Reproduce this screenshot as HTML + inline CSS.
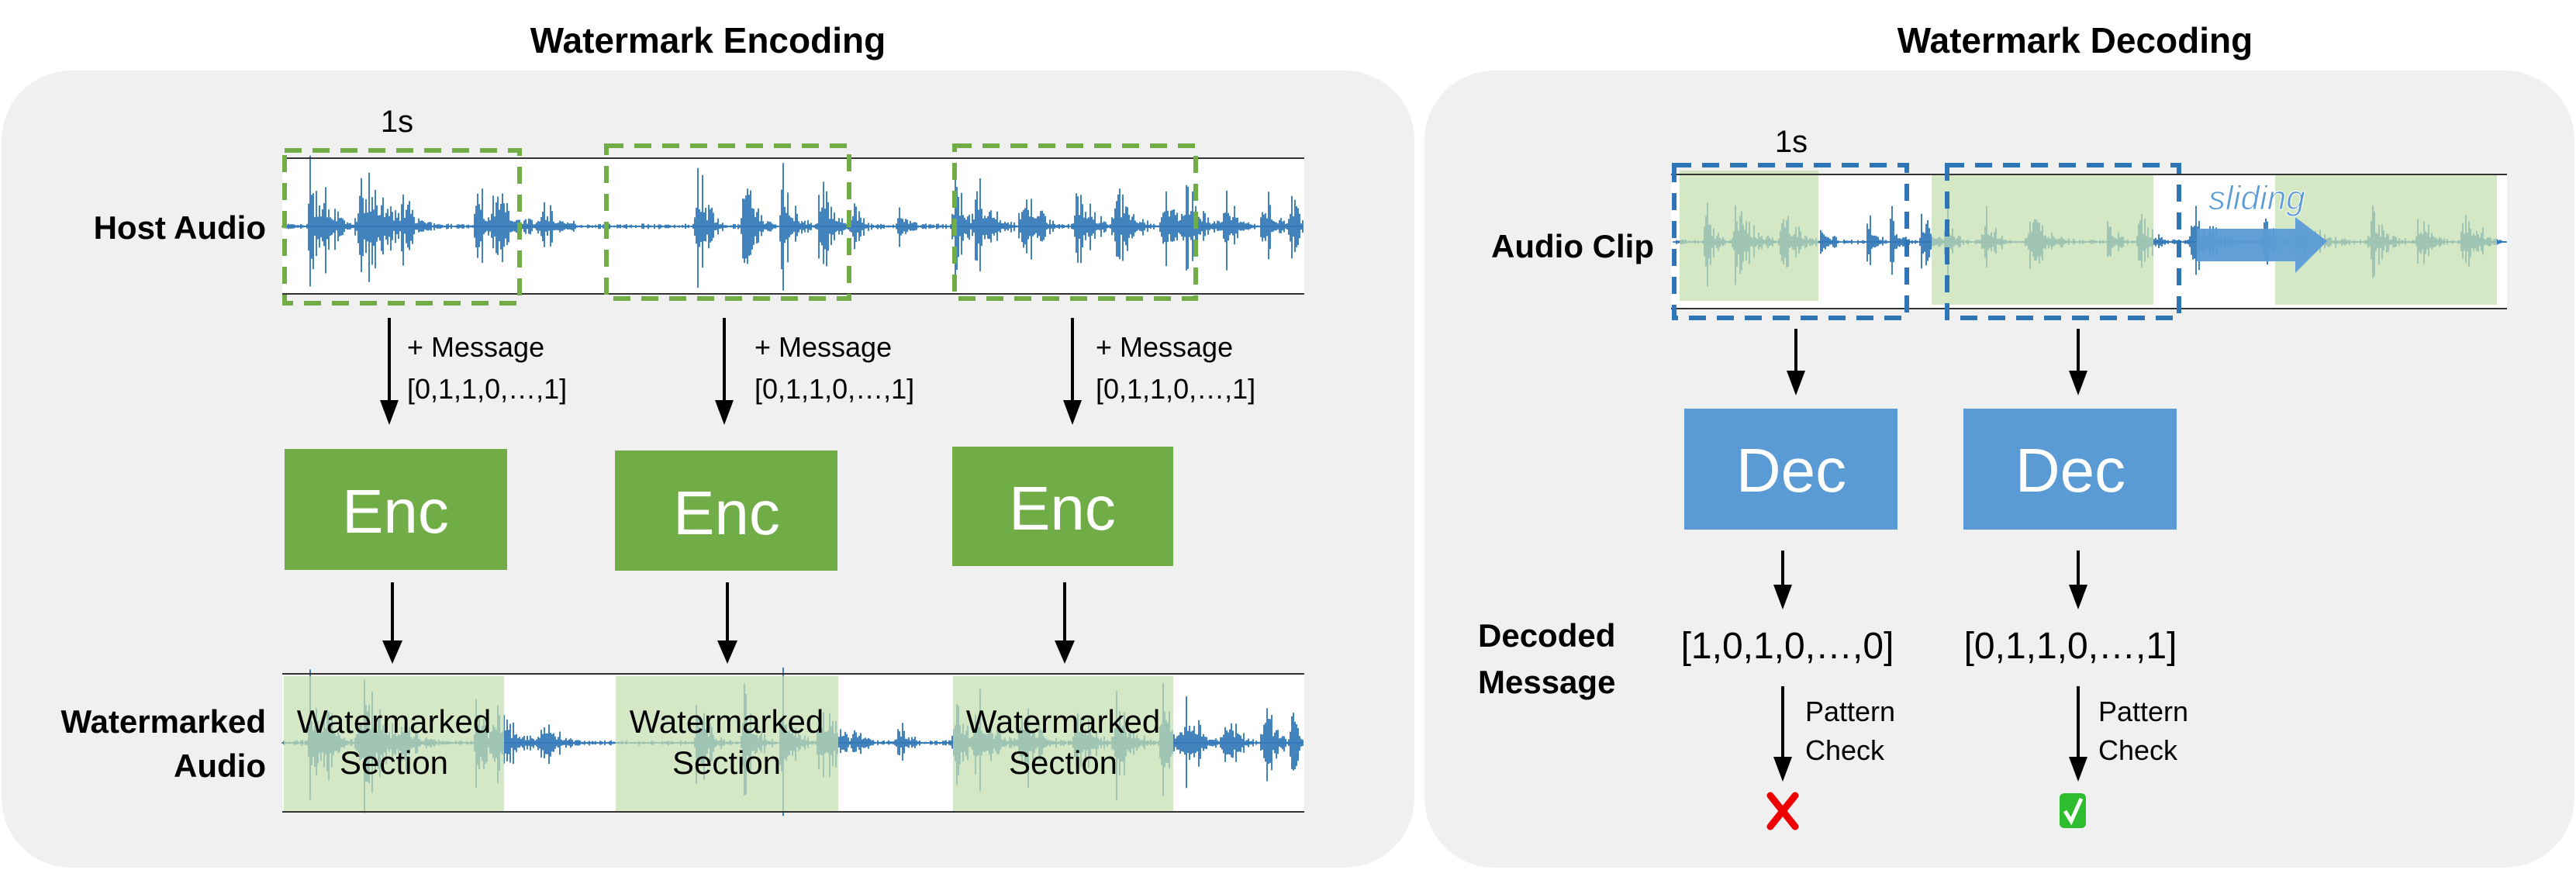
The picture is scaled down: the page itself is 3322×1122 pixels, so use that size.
<!DOCTYPE html>
<html><head><meta charset="utf-8"><style>
html,body{margin:0;padding:0;background:#fff;}
svg{display:block;font-family:"Liberation Sans",sans-serif;}
</style></head><body>
<svg id="s" width="3322" height="1122" viewBox="0 0 3322 1122" xmlns="http://www.w3.org/2000/svg">
<rect x="2" y="91" width="1822" height="1028" rx="90" fill="#f0f0f0"/>
<rect x="1837" y="91" width="1483" height="1028" rx="90" fill="#f0f0f0"/>
<text x="913" y="68" font-size="46" font-weight="bold" text-anchor="middle">Watermark Encoding</text>
<text x="2676" y="68" font-size="46" font-weight="bold" text-anchor="middle">Watermark Decoding</text>

<rect x="364" y="204" width="1318" height="175" fill="#fff"/>
<g id="w1"></g>
<line x1="364" y1="204" x2="1682" y2="204" stroke="#333" stroke-width="2"/>
<line x1="364" y1="379" x2="1682" y2="379" stroke="#333" stroke-width="2"/>
<g fill="none" stroke="#70ad47" stroke-width="6" stroke-dasharray="22,14">
<rect x="367" y="194" width="303" height="197"/>
<rect x="782" y="188" width="313" height="197"/>
<rect x="1231" y="188" width="311" height="197"/>
</g>
<text x="512" y="170" font-size="40" text-anchor="middle">1s</text>
<text x="343" y="308" font-size="42" font-weight="bold" text-anchor="end">Host Audio</text>

<g stroke="#000" stroke-width="4">
<line x1="502" y1="410" x2="502" y2="520"/><line x1="934" y1="410" x2="934" y2="520"/><line x1="1383" y1="410" x2="1383" y2="520"/>
<line x1="506" y1="751" x2="506" y2="830"/><line x1="938" y1="751" x2="938" y2="830"/><line x1="1373" y1="751" x2="1373" y2="830"/>
<line x1="2316" y1="424" x2="2316" y2="482"/><line x1="2680" y1="424" x2="2680" y2="482"/>
<line x1="2299" y1="710" x2="2299" y2="758"/><line x1="2680" y1="710" x2="2680" y2="758"/>
<line x1="2299" y1="885" x2="2299" y2="980"/><line x1="2680" y1="885" x2="2680" y2="980"/>
</g>
<g fill="#000">
<polygon points="490,516 514,516 502,548"/><polygon points="922,516 946,516 934,548"/><polygon points="1371,516 1395,516 1383,548"/>
<polygon points="493,826 519,826 506,856"/><polygon points="925,826 951,826 938,856"/><polygon points="1360,826 1386,826 1373,856"/>
<polygon points="2304,478 2328,478 2316,510"/><polygon points="2668,478 2692,478 2680,510"/>
<polygon points="2287,754 2311,754 2299,786"/><polygon points="2668,754 2692,754 2680,786"/>
<polygon points="2287,976 2311,976 2299,1008"/><polygon points="2668,976 2692,976 2680,1008"/>
</g>
<g font-size="36">
<text x="525" y="460">+ Message</text><text x="525" y="514">[0,1,1,0,…,1]</text>
<text x="973" y="460">+ Message</text><text x="973" y="514">[0,1,1,0,…,1]</text>
<text x="1413" y="460">+ Message</text><text x="1413" y="514">[0,1,1,0,…,1]</text>
</g>
<g fill="#70ad47">
<rect x="367" y="579" width="287" height="156"/><rect x="793" y="581" width="287" height="155"/><rect x="1228" y="576" width="285" height="154"/>
</g>
<g fill="#fff" font-size="80" text-anchor="middle">
<text x="510" y="687">Enc</text><text x="937" y="689">Enc</text><text x="1370" y="683">Enc</text>
</g>

<rect x="364" y="869" width="1318" height="178" fill="#fff"/>
<g id="w2"></g>
<g fill="#c5dfb0" opacity="0.72">
<rect x="366" y="872" width="284" height="174"/><rect x="794" y="872" width="287" height="174"/><rect x="1229" y="872" width="284" height="174"/>
</g>
<line x1="364" y1="869" x2="1682" y2="869" stroke="#333" stroke-width="2"/>
<line x1="364" y1="1047" x2="1682" y2="1047" stroke="#333" stroke-width="2"/>
<g font-size="42" text-anchor="middle">
<text x="508" y="945">Watermarked</text><text x="508" y="998">Section</text>
<text x="937" y="945">Watermarked</text><text x="937" y="998">Section</text>
<text x="1371" y="945">Watermarked</text><text x="1371" y="998">Section</text>
</g>
<g font-size="42" font-weight="bold" text-anchor="end">
<text x="343" y="945">Watermarked</text><text x="343" y="1002">Audio</text>
</g>

<rect x="2155" y="224" width="1078" height="174" fill="#fff"/>
<g id="w3"></g>
<g fill="#c5dfb0" opacity="0.72">
<rect x="2166" y="220" width="179" height="168"/><rect x="2491" y="225" width="286" height="168"/><rect x="2934" y="225" width="286" height="168"/>
</g>
<line x1="2155" y1="225" x2="3233" y2="225" stroke="#333" stroke-width="2"/>
<line x1="2155" y1="398" x2="3233" y2="398" stroke="#333" stroke-width="2"/>
<g fill="none" stroke="#2e75b6" stroke-width="6" stroke-dasharray="22,14">
<rect x="2159" y="213" width="300" height="197"/>
<rect x="2511" y="213" width="299" height="197"/>
</g>
<polygon points="2833,295 2960,295 2960,280 3001,311 2960,352 2960,337 2833,337" fill="#5b9bd5" opacity="0.95"/>
<text x="2848" y="270" font-size="44" font-style="italic" fill="#5b9bd5" stroke="#fff" stroke-width="1">sliding</text>
<text x="2310" y="196" font-size="40" text-anchor="middle">1s</text>
<text x="2133" y="332" font-size="42" font-weight="bold" text-anchor="end">Audio Clip</text>
<g fill="#5b9bd5"><rect x="2172" y="527" width="275" height="156"/><rect x="2532" y="527" width="275" height="156"/></g>
<g fill="#fff" font-size="80" text-anchor="middle"><text x="2310" y="634">Dec</text><text x="2670" y="634">Dec</text></g>
<g font-size="48" text-anchor="middle"><text x="2305" y="849">[1,0,1,0,…,0]</text><text x="2670" y="849">[0,1,1,0,…,1]</text></g>
<g font-size="42" font-weight="bold"><text x="1906" y="834">Decoded</text><text x="1906" y="894">Message</text></g>
<g font-size="36"><text x="2328" y="930">Pattern</text><text x="2328" y="980">Check</text>
<text x="2706" y="930">Pattern</text><text x="2706" y="980">Check</text></g>
<g stroke="#e00" stroke-width="9" stroke-linecap="round"><line x1="2283" y1="1026" x2="2315" y2="1066"/><line x1="2315" y1="1026" x2="2283" y2="1066"/></g>
<rect x="2656" y="1023" width="34" height="45" rx="6" fill="#2ebd2e"/>
<polyline points="2663,1046 2671,1059 2684,1030" fill="none" stroke="#fff" stroke-width="5"/>
</svg>
<script>
var seed=7;function r(){seed=(seed*16807)%2147483647;return seed/2147483647;}
var NS="http://www.w3.org/2000/svg";
function wave(id,x0,x1,cy,maxA,bursts,col){
 var g=document.getElementById(id),d="";
 for(var x=x0;x<=x1;x+=2){
  var e=3;
  bursts.forEach(function(b){var t=(x-b[0])/b[1];if(t>-0.2&&t<1.5){var v=t<0?(1+t*5):Math.exp(-t*2.2);e=Math.max(e,b[2]*v);}});
  var q=r();var f=0.25+0.75*q*q;if(r()<0.08)f=1.0;
  var a=Math.min(maxA,e*f*maxA/80);
  var up=a*(0.7+0.3*r()),dn=a*(0.7+0.3*r());
  d+="M"+x+" "+(cy-up).toFixed(1)+"V"+(cy+dn).toFixed(1);
 }
 var p=document.createElementNS(NS,"path");p.setAttribute("d",d);p.setAttribute("stroke",col);p.setAttribute("stroke-width","1.8");g.appendChild(p);
 var l=document.createElementNS(NS,"line");l.setAttribute("x1",x0);l.setAttribute("x2",x1);l.setAttribute("y1",cy);l.setAttribute("y2",cy);l.setAttribute("stroke",col);l.setAttribute("stroke-width","1.5");g.appendChild(l);
}
var b1=[[400,20,100],[420,30,60],[470,70,75],[520,30,50],[615,20,100],[640,60,50],[700,50,35],[900,25,100],[960,30,80],[1010,30,80],[1060,40,70],[1100,25,40],[1160,30,30],[1232,25,85],[1260,40,70],[1320,40,65],[1390,40,60],[1440,40,65],[1500,30,70],[1530,40,65],[1580,30,60],[1630,30,60],[1665,20,55]];
wave("w1",364,1680,292,100,b1,"#2e75b6");
seed=11;wave("w2",364,1680,958,100,b1,"#2e75b6");
seed=19;
var b3=[[2200,20,70],[2240,40,70],[2300,40,55],[2350,20,45],[2410,20,55],[2440,20,55],[2480,30,55],[2510,20,60],[2560,30,50],[2620,50,45],[2720,20,50],[2760,30,60],[2830,50,60],[2920,30,45],[2960,60,50],[3060,40,45],[3120,30,50],[3180,40,60]];
wave("w3",2158,3232,312,88,b3,"#2e75b6");
</script>
</body></html>
